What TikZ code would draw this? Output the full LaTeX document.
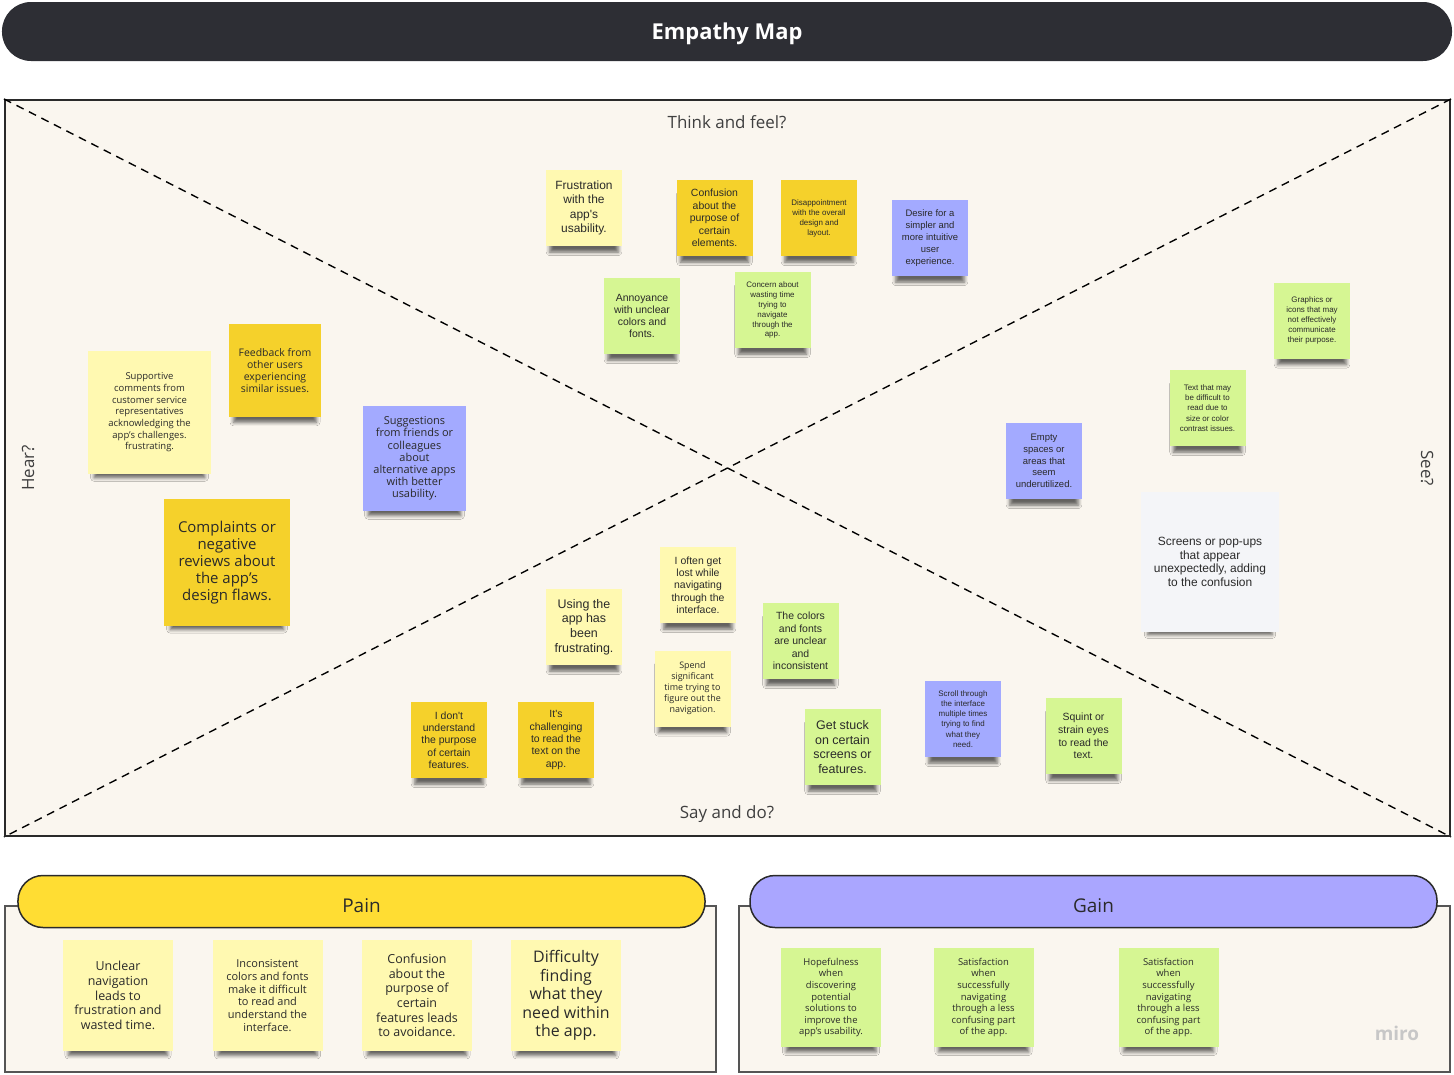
\documentclass[tikz,border=0pt]{standalone}
\usepackage{fontspec}
\setmainfont{Open Sans}
\newfontfamily\arialf{Liberation Sans}
\usetikzlibrary{shadows,shadows.blur}
\definecolor{mpdark}{HTML}{2D2E34}
\definecolor{mpcream}{HTML}{FAF6EF}
\definecolor{mpyellow}{HTML}{FFF9B1}
\definecolor{mpgold}{HTML}{F5D12B}
\definecolor{mpgreen}{HTML}{D6F693}
\definecolor{mplav}{HTML}{A3AAFF}
\definecolor{mpgray}{HTML}{F4F5F8}
\definecolor{mppill}{HTML}{FFDD33}
\definecolor{mppilllav}{HTML}{AAA6FF}
\definecolor{mptext}{HTML}{2A2A2A}
\newcommand{\nsz}[2]{\fontsize{#1}{#2}\selectfont}

\begin{document}
\begin{tikzpicture}[x=1bp,y=-1bp,
  note/.style={rectangle,minimum width=76bp,minimum height=76bp,inner sep=1bp,
               align=center,text=mptext,
               blur shadow={shadow xshift=0bp,shadow yshift=-11bp,
                            shadow scale=0.9,
                            shadow blur radius=4bp,shadow opacity=60}},
  sz/.style 2 args={minimum width=#1,minimum height=#2},
  lbl/.style={font=\nsz{17}{20},text=mptext!90},
  panel/.style={rectangle,draw=mptext!80,line width=1.5bp,fill=mpcream},
  pill/.style={rectangle,rounded corners=25bp,draw=mptext,line width=1.5bp,
               minimum width=687bp,minimum height=52bp},
  pilltext/.style={font=\nsz{19}{22},text=mptext}
]
  \useasboundingbox (0,0) rectangle (1454,1074);

  % ---- Title bar ---------------------------------------------
  \node[rectangle,rounded corners=29bp,fill=mpdark,minimum width=1450bp,
        minimum height=59bp] (title) at (727,31.5) {};
  \node[text=white,font=\bfseries\nsz{22}{26}] (titletext) at (727,34) {Empathy Map};

  % ---- Board with the four quadrants -------------------------
  \node[rectangle,draw=mptext,line width=2bp,fill=mpcream,
        minimum width=1445bp,minimum height=736bp] (board) at (727.5,468) {};
  \draw[dashed,dash pattern=on 8bp off 6bp,line width=1.4bp]
    (board.north west) -- (board.south east);
  \draw[dashed,dash pattern=on 8bp off 6bp,line width=1.4bp]
    (board.north east) -- (board.south west);

  \node[lbl] (think) at (727,122) {Think and feel?};
  \node[lbl] (say)   at (727,814) {Say and do?};
  \node[lbl,rotate=90]  (hear) at (28,468)   {Hear?};
  \node[lbl,rotate=-90] (see)  at (1427,468) {See?};

  % ---- Think and feel ----------------------------------------
  \node[note,fill=mpyellow,font=\arialf\nsz{12}{14.5}] (frust) at (584,208)
    {Frustration\\with the\\app's\\usability.};
  \node[note,fill=mpgold,font=\arialf\nsz{10.5}{12.5}] (confel) at (714.5,218)
    {Confusion\\about the\\purpose of\\certain\\elements.};
  \node[note,fill=mpgold,font=\arialf\nsz{8}{10}] (disap) at (819,218)
    {Disappointment\\with the overall\\design and\\layout.};
  \node[note,fill=mplav,font=\arialf\nsz{9.5}{12}] (desire) at (930,238)
    {Desire for a\\simpler and\\more intuitive\\user\\experience.};
  \node[note,fill=mpgreen,font=\arialf\nsz{10.5}{12.3}] (annoy) at (642,316)
    {Annoyance\\with unclear\\colors and\\fonts.};
  \node[note,fill=mpgreen,font=\arialf\nsz{8}{10}] (concern) at (772.5,310)
    {Concern about\\wasting time\\trying to\\navigate\\through the\\app.};

  % ---- Hear ---------------------------------------------------
  \node[note,sz={123bp}{123bp},fill=mpyellow,font=\nsz{9.5}{11.7}] (supp) at (149.5,412.5)
    {Supportive\\comments from\\customer service\\representatives\\acknowledging the\\app's challenges.\\frustrating.};
  \node[note,sz={92bp}{93bp},fill=mpgold,font=\nsz{10.5}{12}] (feed) at (275,370.5)
    {Feedback from\\other users\\experiencing\\similar issues.};
  \node[note,sz={103bp}{105bp},fill=mplav,font=\nsz{11}{12.2}] (sugg) at (414.5,458.5)
    {Suggestions\\from friends or\\colleagues\\about\\alternative apps\\with better\\usability.};
  \node[note,sz={126bp}{127bp},fill=mpgold,font=\nsz{15}{17}] (compl) at (227,562.5)
    {Complaints or\\negative\\reviews about\\the app's\\design flaws.};

  % ---- See ----------------------------------------------------
  \node[note,fill=mpgreen,font=\arialf\nsz{8}{10}] (graph) at (1312,320.5)
    {Graphics or\\icons that may\\not effectively\\communicate\\their purpose.};
  \node[note,fill=mpgreen,font=\arialf\nsz{8}{10.3}] (textmay) at (1207.5,408)
    {Text that may\\be difficult to\\read due to\\size or color\\contrast issues.};
  \node[note,fill=mplav,font=\arialf\nsz{9.5}{11.8}] (empty) at (1044,461)
    {Empty\\spaces or\\areas that\\seem\\underutilized.};
  \node[note,sz={138bp}{140bp},fill=mpgray,font=\arialf\nsz{12}{13.5}] (screens) at (1210,562)
    {Screens or pop-ups\\that appear\\unexpectedly, adding\\to the confusion};

  % ---- Say and do ---------------------------------------------
  \node[note,fill=mpyellow,font=\arialf\nsz{10.5}{12.4}] (lost) at (698,585)
    {I often get\\lost while\\navigating\\through the\\interface.};
  \node[note,fill=mpyellow,font=\arialf\nsz{12.5}{14.6}] (using) at (584,627)
    {Using the\\app has\\been\\frustrating.};
  \node[note,fill=mpgreen,font=\arialf\nsz{10.5}{12.5}] (colors) at (800.5,641)
    {The colors\\and fonts\\are unclear\\and\\inconsistent};
  \node[note,fill=mpyellow,font=\nsz{9}{11}] (spend) at (692.5,688.5)
    {Spend\\significant\\time trying to\\figure out the\\navigation.};
  \node[note,fill=mpgold,font=\arialf\nsz{10.5}{12.4}] (idont) at (449,740)
    {I don't\\understand\\the purpose\\of certain\\features.};
  \node[note,fill=mpgold,font=\arialf\nsz{10.5}{12.4}] (chall) at (556,740)
    {It's\\challenging\\to read the\\text on the\\app.};
  \node[note,fill=mpgreen,font=\arialf\nsz{12.5}{14.7}] (stuck) at (842.5,747)
    {Get stuck\\on certain\\screens or\\features.};
  \node[note,fill=mplav,font=\arialf\nsz{8}{10.2}] (scroll) at (963,719)
    {Scroll through\\the interface\\multiple times\\trying to find\\what they\\need.};
  \node[note,fill=mpgreen,font=\arialf\nsz{10.5}{12.6}] (squint) at (1083.5,736)
    {Squint or\\strain eyes\\to read the\\text.};

  % ---- Pain ---------------------------------------------------
  \node[panel,minimum width=711bp,minimum height=166bp] (painbox) at (360.5,989) {};
  \node[pill,fill=mppill] (pain) at (361.5,901.5) {};
  \node[pilltext] (paintext) at (361.5,906) {Pain};

  \node[note,sz={110bp}{111bp},fill=mpyellow,font=\nsz{12.5}{14.7}] (pain1) at (118,995.5)
    {Unclear\\navigation\\leads to\\frustration and\\wasted time.};
  \node[note,sz={110bp}{111bp},fill=mpyellow,font=\nsz{11}{12.7}] (pain2) at (267.5,995.5)
    {Inconsistent\\colors and fonts\\make it difficult\\to read and\\understand the\\interface.};
  \node[note,sz={110bp}{111bp},fill=mpyellow,font=\nsz{12.5}{14.6}] (pain3) at (417,995.5)
    {Confusion\\about the\\purpose of\\certain\\features leads\\to avoidance.};
  \node[note,sz={110bp}{111bp},fill=mpyellow,font=\nsz{16}{18.5}] (pain4) at (566,995.5)
    {Difficulty\\finding\\what they\\need within\\the app.};

  % ---- Gain ---------------------------------------------------
  \node[panel,minimum width=711bp,minimum height=166bp] (gainbox) at (1094.5,989) {};
  \node[pill,fill=mppilllav] (gain) at (1093.5,901.5) {};
  \node[pilltext] (gaintext) at (1093.5,906) {Gain};

  \node[note,sz={100bp}{99bp},fill=mpgreen,font=\nsz{9.5}{11.7}] (gain1) at (831,997.5)
    {Hopefulness\\when\\discovering\\potential\\solutions to\\improve the\\app's usability.};
  \node[note,sz={100bp}{99bp},fill=mpgreen,font=\nsz{9.5}{11.7}] (gain2) at (983.5,997.5)
    {Satisfaction\\when\\successfully\\navigating\\through a less\\confusing part\\of the app.};
  \node[note,sz={100bp}{99bp},fill=mpgreen,font=\nsz{9.5}{11.7}] (gain3) at (1168.5,997.5)
    {Satisfaction\\when\\successfully\\navigating\\through a less\\confusing part\\of the app.};

  \node[font=\bfseries\nsz{19}{22},text=black!22] (miro) at (1397,1033) {miro};

\end{tikzpicture}
\end{document}
